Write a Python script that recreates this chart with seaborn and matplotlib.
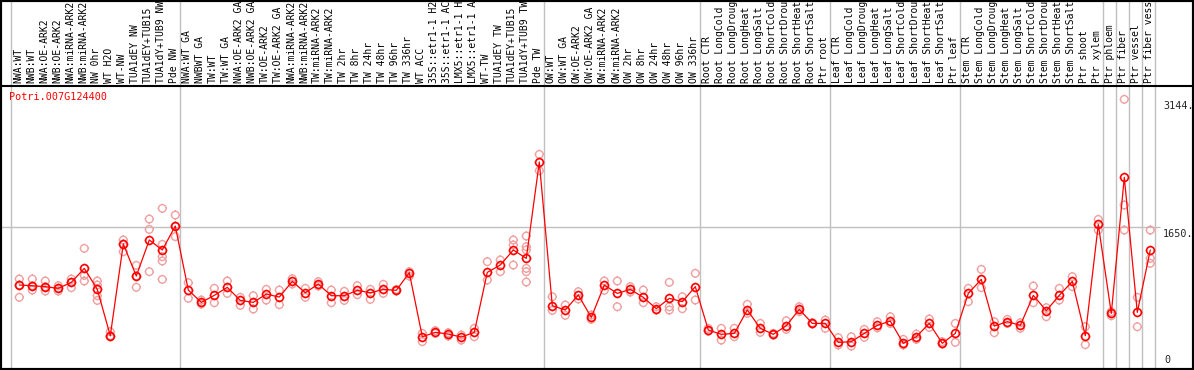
import matplotlib
matplotlib.use("Agg")
import matplotlib.pyplot as plt
import matplotlib.path as mpath
import matplotlib.patches as patches
from matplotlib.lines import Line2D
import seaborn as sns
import pandas as pd

title = "Potri.007G124400"

labels = [
    "NWA:WT", "NWB:WT", "NWA:OE-ARK2", "NWB:OE-ARK2", "NWA:miRNA-ARK2", "NWB:miRNA-ARK2",
    "NW 0hr", "WT H2O", "WT-NW", "TUA1dEY NW", "TUA1dEY+TUB15", "TUA1dY+TUB9 NW", "Pde NW",
    "NWA:WT GA", "NWBWT GA", "TW:WT", "TW:WT GA", "NWA:OE-ARK2 GA", "NWB:OE-ARK2 GA",
    "TW:OE-ARK2", "TW:OE-ARK2 GA", "NWA:miRNA-ARK2", "NWB:miRNA-ARK2", "TW:miRNA-ARK2",
    "TW:miRNA-ARK2", "TW 2hr", "TW 8hr", "TW 24hr", "TW 48hr", "TW 96hr", "TW 336hr",
    "WT ACC", "35S::etr1-1 H2", "35S::etr1-1 AC", "LMX5::etr1-1 H", "LMX5::etr1-1 A",
    "WT-TW", "TUA1dEY TW", "TUA1dEY+TUB15", "TUA1dY+TUB9 TW", "Pde TW",
    "OW:WT", "OW:WT GA", "OW:OE-ARK2", "OW:OE-ARK2 GA", "OW:miRNA-ARK2", "OW:miRNA-ARK2",
    "OW 2hr", "OW 8hr", "OW 24hr", "OW 48hr", "OW 96hr", "OW 336hr",
    "Root CTR", "Root LongCold", "Root LongDroug", "Root LongHeat", "Root LongSalt",
    "Root ShortCold", "Root ShortDrou", "Root ShortHeat", "Root ShortSalt", "Ptr root",
    "Leaf CTR", "Leaf LongCold", "Leaf LongDroug", "Leaf LongHeat", "Leaf LongSalt",
    "Leaf ShortCold", "Leaf ShortDrou", "Leaf ShortHeat", "Leaf ShortSalt", "Ptr leaf",
    "Stem CTR", "Stem LongCold", "Stem LongDroug", "Stem LongHeat", "Stem LongSalt",
    "Stem ShortCold", "Stem ShortDrou", "Stem ShortHeat", "Stem ShortSalt", "Ptr shoot",
    "Ptr xylem", "Ptr phloem", "Ptr fiber", "Ptr vessel", "Ptr fiber vess",
]

means = [
    971, 963, 952, 932, 1002, 1166, 920, 378, 1451, 1076, 1498, 1381, 1661,
    912, 768, 850, 944, 791, 768, 865, 830, 1014, 880, 983, 846, 846, 909, 880,
    920, 909, 1115, 366, 417, 397, 362, 417, 1119, 1205, 1381, 1283, 2410,
    729, 679, 854, 592, 971, 873, 920, 827, 694, 815, 776, 952,
    444, 394, 405, 679, 464, 394, 495, 686, 522, 522,
    300, 308, 405, 499, 549, 289, 366, 522, 289, 405,
    873, 1037, 491, 542, 499, 850, 671, 850, 1014, 378,
    1680, 639, 2231, 651, 1381,
]

replicates = [
    [1041, 971, 827], [1041, 912, 963], [1018, 901, 952], [963, 901, 932],
    [1041, 940, 1002], [1400, 1084, 1018], [1018, 971, 846, 791], [425, 378, 366],
    [1498, 1361, 1451], [1201, 944, 1076], [1743, 1622, 1127],
    [1868, 1447, 1303, 1252, 1037], [1790, 1537, 1661],
    [998, 815], [795, 748], [932, 764], [1018, 873], [827, 733], [846, 690],
    [920, 795], [912, 741], [1045, 983], [932, 827], [1010, 959], [912, 764],
    [897, 791], [963, 858], [920, 803], [979, 873], [920, 900], [1127, 1076],
    [405, 308], [437, 405], [413, 374], [386, 327], [464, 366], [1244, 1030],
    [1264, 1127], [1498, 1439, 1205], [1544, 1420, 1381, 1166, 1127, 1006],
    [2500, 2309],
    [834, 674], [737, 616], [893, 807], [620, 569], [1018, 909], [1018, 717],
    [952, 889], [912, 764], [717, 678], [1002, 717, 678], [834, 694], [1108, 795],
    [464, 430], [464, 327], [464, 366], [745, 639], [522, 417], [405, 385],
    [553, 452], [717, 659], [530, 515], [561, 464],
    [355, 269], [366, 257], [452, 359], [542, 470], [600, 520], [335, 269],
    [397, 335], [573, 475], [308, 280], [522, 300],
    [932, 776], [1154, 940], [542, 413], [569, 522], [530, 464], [959, 764],
    [706, 600], [932, 795], [1069, 952], [483, 273],
    [1739, 1614], [659, 612], [3144, 1907, 1614], [827, 483], [1614, 1283, 1225],
]

group_breaks = [0, 13, 41, 53, 63, 73, 84, 85, 86, 87, 88]
ytick_values = [3144, 1650, 0]
ytick_labels = ["3144.", "1650.", "0"]

red = "#ff0000"
pink = "#f0a0a0"
grid = "#c0c0c0"
mono = "DejaVu Sans Mono"

x_idx = list(range(len(means)))
df_mean = pd.DataFrame({"x": x_idx, "value": means})
df_rep = pd.DataFrame(
    [(i, v) for i, reps in enumerate(replicates) for v in reps], columns=["x", "value"]
)

# circle with four little ticks, like the original pixel markers
circle = mpath.Path.unit_circle()
ticks = mpath.Path(
    [(0, 1), (0, 1.22), (0, -1), (0, -1.22), (1, 0), (1.22, 0), (-1, 0), (-1.22, 0)],
    [mpath.Path.MOVETO, mpath.Path.LINETO] * 4,
)
mark = mpath.Path.make_compound_path(circle, ticks)

sns.set_style("white")
W, H = 1194, 370
fig = plt.figure(figsize=(W / 100, H / 100), dpi=100)
ax = fig.add_axes([0, 2 / H, 1, 282 / H])

x0, step = 19.3, 13.0
ax.set_xlim(-x0 / step, (W - x0) / step)
ax.set_ylim(0, 3300)

for k in group_breaks:
    ax.axvline(k - 0.64, ymin=0, ymax=368 / 282, color=grid, lw=1, clip_on=False, zorder=1)
ax.hlines(1650, -x0 / step, (1160 - x0) / step, color=grid, lw=1, zorder=1)

sns.scatterplot(data=df_rep, x="x", y="value", marker=mark, s=44, facecolor="none",
                edgecolor=pink, linewidth=1.0, ax=ax, zorder=2, legend=False)
sns.lineplot(data=df_mean, x="x", y="value", color=red, linewidth=0.9, marker=mark,
             markersize=6.8, markerfacecolor="none", markeredgecolor=red,
             markeredgewidth=1.2, ax=ax, zorder=3, legend=False)

for i, lab in enumerate(labels):
    ax.text(i - 0.1, 1 + 3 / 282, lab, rotation=90, ha="center", va="bottom",
            transform=ax.get_xaxis_transform(), fontsize=7.0, family=mono,
            color="black", clip_on=False)

ax.text(9 / W, 1 - 11 / 282, title, transform=ax.transAxes, fontsize=7.3,
        family=mono, color=red, ha="left", va="center")

xr = (1163 - x0) / step
for v, lab in zip(ytick_values, ytick_labels):
    if v == 0:
        ax.annotate(lab, (xr, v), xytext=(1, 2), textcoords="offset points",
                    fontsize=7.3, family=mono, ha="left", va="bottom")
    else:
        ax.annotate(lab, (xr, v), xytext=(0, -1.5), textcoords="offset points",
                    fontsize=7.3, family=mono, ha="left", va="top")

ax.set_xlabel("")
ax.set_ylabel("")
ax.set_xticks([])
ax.set_yticks([])
for s in ax.spines.values():
    s.set_visible(False)

fig.add_artist(Line2D([0, 1], [1 - 85.5 / H] * 2, transform=fig.transFigure,
                      color="black", lw=1.5))
fig.add_artist(patches.Rectangle((0, 0), 1, 1, transform=fig.transFigure,
                                 fill=False, ec="black", lw=3))

fig.savefig("out.png", dpi=100)
